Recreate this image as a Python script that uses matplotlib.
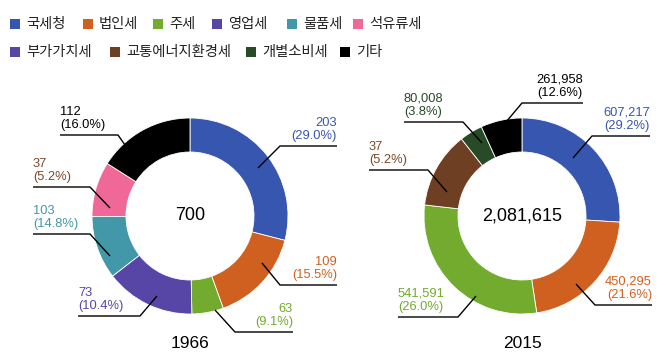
import matplotlib
matplotlib.use('Agg')
import matplotlib.pyplot as plt
from matplotlib.patches import Rectangle
from matplotlib import font_manager

# legend entries (row 1 then row 2)
legend_labels = ['국세청', '법인세', '주세', '영업세', '물품세', '석유류세',
                 '부가가치세', '교통에너지환경세', '개별소비세', '기타']
legend_colors = ['#3656b0', '#d0601f', '#72ab2d', '#5846a6', '#4298a8', '#f06898',
                 '#5846a6', '#6e3f22', '#284a27', '#000000']

# 1966
values_1966 = [203, 109, 63, 73, 103, 37, 112]
pct_1966 = [29.0, 15.5, 9.1, 10.4, 14.8, 5.2, 16.0]
# wedge sizes as they are drawn in the picture (%)
share_1966 = [29.0, 15.5, 5.2, 14.8, 10.4, 9.1, 16.0]
wedge_colors_1966 = ['#3656b0', '#d0601f', '#72ab2d', '#5846a6', '#4298a8', '#f06898', '#000000']
label_colors_1966 = ['#3656b0', '#d0601f', '#72ab2d', '#5846a6', '#4298a8', '#7a4a2a', '#000000']
total_1966 = 700

# 2015
values_2015 = [607217, 450295, 541591, 37, 80008, 261958]
pct_2015 = [29.2, 21.6, 26.0, 5.2, 3.8, 12.6]
share_2015 = [26.0, 21.6, 29.2, 12.6, 3.8, 6.8]
wedge_colors_2015 = ['#3656b0', '#d0601f', '#72ab2d', '#6e3f22', '#284a27', '#000000']
label_colors_2015 = ['#3656b0', '#d0601f', '#72ab2d', '#7a4a2a', '#284a27', '#000000']
total_2015 = 2081615

W, H = 670, 353

names = {f.name for f in font_manager.fontManager.ttflist}
num_font = 'Liberation Sans Narrow' if 'Liberation Sans Narrow' in names else 'Liberation Sans'
kr_font = ['Noto Sans CJK KR', 'DejaVu Sans']

fig = plt.figure(figsize=(W / 100, H / 100), dpi=100)
ax = fig.add_axes([0, 0, 1, 1])


def Y(y):
    # picture rows (top down) -> data y (bottom up)
    return H - y


# legend, drawn by hand so the rows keep their own spacing
legend_x = [10, 83, 153, 212, 287, 353, 10, 110, 246, 340]
legend_y = [24, 24, 24, 24, 24, 24, 52, 52, 52, 52]
for lab, col, x, y in zip(legend_labels, legend_colors, legend_x, legend_y):
    ax.add_patch(Rectangle((x, Y(y) - 5), 10, 10, color=col, lw=0))
    ax.text(x + 16, Y(y), lab, fontsize=10.3, family=kr_font, fontweight='light',
            va='center', ha='left', color='#222222')


def donut(cx, cy, shares, colors, total_text, year):
    ax.pie(shares, colors=colors, center=(cx, Y(cy)), radius=98, startangle=90,
           counterclock=False, wedgeprops=dict(width=34, edgecolor='white', linewidth=0.6))
    ax.text(cx, Y(cy), total_text, fontsize=13, family=num_font, ha='center', va='center')
    ax.text(cx, Y(343), year, fontsize=12.5, family=num_font, ha='center', va='center')


def callout(value, pct, color, tip, elbow, x_end, side):
    # tip -> elbow -> horizontal rule, text sits above the rule
    ex, ey = elbow
    ax.plot([tip[0], ex, x_end], [Y(tip[1]), Y(ey), Y(ey)], color='black', lw=1,
            solid_capstyle='butt')
    if side == 'right':
        tx, ha = x_end, 'right'
    else:
        tx, ha = min(ex, x_end), 'left'
    if isinstance(value, int) and value >= 1000:
        vtxt = f'{value:,}'
    else:
        vtxt = str(value)
    ax.text(tx, Y(ey - 4), f'{vtxt}\n({pct:.1f}%)', color=color, fontsize=9.3,
            family=num_font, ha=ha, va='bottom', linespacing=1.15)


donut(190, 216, share_1966, wedge_colors_1966, f'{total_1966:,}', '1966')
donut(522, 216, share_2015, wedge_colors_2015, f'{total_2015:,}', '2015')

# label layout: (tip, elbow, line end x, side)
layout_1966 = [
    ((258, 168), (280, 146), 337, 'right'),
    ((262, 263), (280, 285), 337, 'right'),
    ((215, 310), (235, 332), 293, 'right'),
    ((157, 296), (140, 316), 78, 'left'),
    ((110, 256), (90, 234), 33, 'left'),
    ((110, 208), (90, 187), 33, 'left'),
    ((125, 145), (118, 135), 60, 'left'),
]
layout_2015 = [
    ((573, 158), (592, 136), 650, 'right'),
    ((576, 284), (595, 305), 652, 'right'),
    ((476, 296), (458, 317), 398, 'left'),
    ((447, 192), (428, 170), 369, 'left'),
    ((482, 143), (463, 122), 404, 'left'),
    ((506, 122), (522, 103), 583, 'right'),
]

for v, p, c, (tip, elbow, xe, side) in zip(values_1966, pct_1966, label_colors_1966, layout_1966):
    callout(v, p, c, tip, elbow, xe, side)
for v, p, c, (tip, elbow, xe, side) in zip(values_2015, pct_2015, label_colors_2015, layout_2015):
    callout(v, p, c, tip, elbow, xe, side)

ax.set_xlim(0, W)
ax.set_ylim(0, H)
ax.set_aspect('equal')
ax.axis('off')

fig.savefig('out.png', dpi=100)
